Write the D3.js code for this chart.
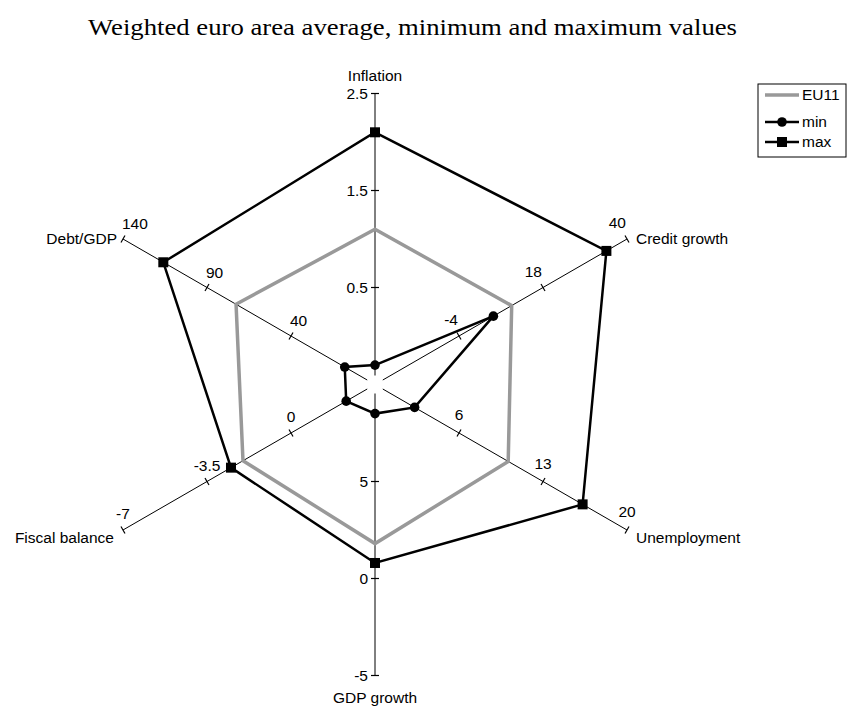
<!DOCTYPE html>
<html>
<head>
<meta charset="utf-8">
<script src="https://cdn.jsdelivr.net/npm/d3@7"></script>
<style>
  body { margin: 0; background: #fff; }
  svg { display: block; }
  text { font-family: Arial, "Liberation Sans", sans-serif; fill: #000; }
</style>
</head>
<body>
<svg id="chart" width="848" height="706"></svg>
<script>
// axes, clockwise from the top
const axisNames = ['Inflation', 'Credit growth', 'Unemployment', 'GDP growth', 'Fiscal balance', 'Debt/GDP'];
// value sitting at the centre of each axis
const axisCentre = [-0.5, -26, -1, 10, 3.5, -10];
// tick labels along each axis (1/3, 2/3, end)
const axisTicks = [
  [0.5, 1.5, 2.5],
  [-4, 18, 40],
  [6, 13, 20],
  [5, 0, -5],
  [0, -3.5, -7],
  [40, 90, 140]
];

const eu11 = [1.1, 9.8, 10.1, 1.8, -2.0, 72.7];
const minVals = [-0.3, 5, 2.3, 8.5, 2.3, 8];
const maxVals = [2.1, 34.6, 16.3, 0.8, -2.5, 116];

const seriesNames = ['EU11', 'min', 'max'];

const svg = d3.select('#chart');
const cx = 375, cy = 384.5, R = 291, inner = 9;

svg.append('text')
  .attr('x', 88).attr('y', 35)
  .attr('textLength', 649).attr('lengthAdjust', 'spacingAndGlyphs')
  .style('font-family', '"Times New Roman", "Liberation Serif", serif')
  .style('font-size', '23px')
  .text('Weighted euro area average, minimum and maximum values');

const angle = i => i * Math.PI / 3;
const scales = axisNames.map((n, i) =>
  d3.scaleLinear().domain([axisCentre[i], axisTicks[i][2]]).range([0, R]));
const pt = (i, r) => [cx + r * Math.sin(angle(i)), cy - r * Math.cos(angle(i))];

// per-axis placement of tick labels
const tickLabelPos = [
  { anchor: 'end', dx: -7, dy: 5 },
  { anchor: 'end', dx: -1, dy: -11 },
  { anchor: 'middle', dx: 0, dy: -13 },
  { anchor: 'end', dx: -7, dy: 5 },
  { anchor: 'middle', dx: 0, dy: -11 },
  { anchor: 'start', dx: -1, dy: -10 }
];
const axisLabelPos = [
  { anchor: 'middle', dx: 0, dy: -13 },
  { anchor: 'start', dx: 9, dy: 5 },
  { anchor: 'start', dx: 9, dy: 13 },
  { anchor: 'middle', dx: 0, dy: 27 },
  { anchor: 'end', dx: -9, dy: 13 },
  { anchor: 'end', dx: -6, dy: 5 }
];

const axes = svg.append('g');
axisNames.forEach((name, i) => {
  const a = angle(i);
  const p0 = pt(i, inner), p1 = pt(i, R);
  axes.append('line')
    .attr('x1', p0[0]).attr('y1', p0[1]).attr('x2', p1[0]).attr('y2', p1[1])
    .attr('stroke', '#000').attr('stroke-width', 1);
  // perpendicular tick marks
  const ux = Math.cos(a), uy = Math.sin(a);
  axisTicks[i].forEach(t => {
    const p = pt(i, scales[i](t));
    axes.append('line')
      .attr('x1', p[0] - ux * 4).attr('y1', p[1] - uy * 4)
      .attr('x2', p[0] + ux * 4).attr('y2', p[1] + uy * 4)
      .attr('stroke', '#000').attr('stroke-width', 1.2);
    axes.append('text')
      .attr('x', p[0] + tickLabelPos[i].dx).attr('y', p[1] + tickLabelPos[i].dy)
      .attr('text-anchor', tickLabelPos[i].anchor)
      .style('font-size', '15.5px')
      .text(t);
  });
  axes.append('text')
    .attr('x', p1[0] + axisLabelPos[i].dx).attr('y', p1[1] + axisLabelPos[i].dy)
    .attr('text-anchor', axisLabelPos[i].anchor)
    .style('font-size', '15.5px')
    .text(name);
});

const radial = d3.line().curve(d3.curveLinearClosed);
const toPoints = vals => vals.map((v, i) => pt(i, scales[i](v)));

svg.append('path')
  .attr('d', radial(toPoints(eu11)))
  .attr('fill', 'none').attr('stroke', '#999').attr('stroke-width', 3.5);

svg.append('path')
  .attr('d', radial(toPoints(minVals)))
  .attr('fill', 'none').attr('stroke', '#000').attr('stroke-width', 2.5);
svg.append('g').selectAll('circle')
  .data(toPoints(minVals)).enter().append('circle')
  .attr('cx', d => d[0]).attr('cy', d => d[1]).attr('r', 4.8).attr('fill', '#000');

svg.append('path')
  .attr('d', radial(toPoints(maxVals)))
  .attr('fill', 'none').attr('stroke', '#000').attr('stroke-width', 2.5);
svg.append('g').selectAll('rect')
  .data(toPoints(maxVals)).enter().append('rect')
  .attr('x', d => d[0] - 5).attr('y', d => d[1] - 5)
  .attr('width', 10).attr('height', 10).attr('fill', '#000');

// legend
const lg = svg.append('g').attr('transform', 'translate(758,84)');
lg.append('rect').attr('width', 88).attr('height', 73)
  .attr('fill', '#fff').attr('stroke', '#000').attr('stroke-width', 1);
const rowY = [11, 38, 58];
seriesNames.forEach((s, k) => {
  const y = rowY[k];
  lg.append('line').attr('x1', 7).attr('x2', 41).attr('y1', y).attr('y2', y)
    .attr('stroke', k === 0 ? '#999' : '#000').attr('stroke-width', k === 0 ? 3.5 : 2.5);
  if (k === 1) lg.append('circle').attr('cx', 24).attr('cy', y).attr('r', 4.8);
  if (k === 2) lg.append('rect').attr('x', 19).attr('y', y - 5).attr('width', 10).attr('height', 10);
  lg.append('text').attr('x', 44).attr('y', y + 5)
    .style('font-size', '15.5px').text(s);
});
</script>
</body>
</html>
